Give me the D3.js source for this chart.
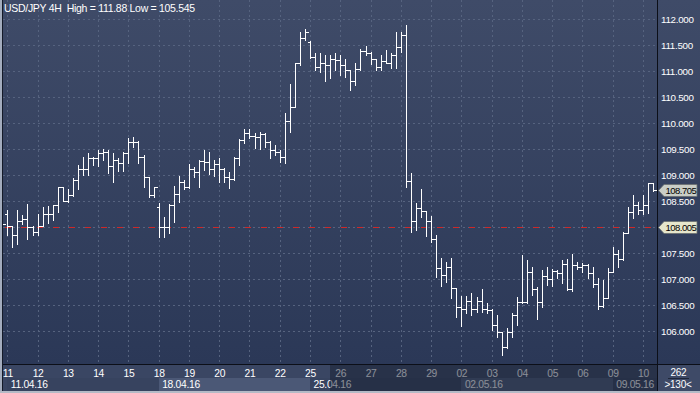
<!DOCTYPE html>
<html><head><meta charset="utf-8">
<script src="https://cdn.jsdelivr.net/npm/d3@7/dist/d3.min.js"></script>
<style>html,body{margin:0;padding:0;background:#2e3a57;overflow:hidden}svg{display:block}text{font-family:"Liberation Sans",Arial,sans-serif}</style>
</head><body><svg id="c" width="700" height="393"></svg>
<script>
// ---------------- data ----------------
const titleText = "USD/JPY 4H  High = 111.88 Low = 105.545";
const dayLabels = ["11","12","13","14","15","18","19","20","21","22","25","26","27","28","29","02","03","04","05","06","09","10"];
const weekLabels = ["11.04.16","18.04.16","25.04.16","02.05.16","09.05.16"];
const weekStartDay = [0,5,10,15,20];
const barsPerDay = 6;
const firstBar = -1;
const opens = [108.135,108.244,108.019,107.846,108.121,108.154,107.994,107.910,108.019,108.250,108.250,108.417,108.763,108.506,108.615,108.904,109.110,109.110,109.321,109.321,109.429,109.448,109.173,109.288,109.237,109.429,109.640,109.640,109.352,108.956,108.615,108.379,108.000,107.994,108.423,108.635,108.860,108.763,109.110,109.063,109.269,109.256,109.115,109.206,109.115,108.967,108.917,109.321,109.673,109.813,109.750,109.725,109.788,109.640,109.481,109.448,109.352,110.044,110.313,111.154,111.629,111.563,111.263,111.083,111.148,111.115,111.225,111.212,111.115,111.019,110.813,111.033,111.390,111.340,111.225,111.071,111.198,111.160,111.317,111.462,111.692,108.890,108.115,108.360,108.313,108.115,107.763,107.206,107.077,107.225,106.821,106.467,106.417,106.583,106.417,106.583,106.417,106.404,106.115,105.987,105.698,105.987,106.308,106.563,106.563,107.140,106.802,106.558,107.067,106.994,107.160,107.110,107.288,106.802,107.269,107.237,107.269,107.121,106.904,106.481,106.635,107.135,107.481,107.385,107.885,108.288,108.423,108.327,108.423,108.846];
const highs = [108.231,108.327,108.019,108.327,108.231,108.442,108.019,108.250,108.390,108.404,108.417,108.775,108.775,108.725,108.937,109.192,109.352,109.417,109.340,109.481,109.494,109.481,109.417,109.321,109.448,109.706,109.725,109.660,109.385,108.960,108.775,108.456,108.198,108.442,108.788,108.981,108.904,109.212,109.160,109.280,109.481,109.448,109.288,109.321,109.129,109.063,109.352,109.687,109.879,109.879,109.802,109.833,109.802,109.660,109.577,109.481,110.187,110.750,111.160,111.756,111.802,111.583,111.340,111.340,111.308,111.308,111.340,111.308,111.225,111.019,111.148,111.417,111.481,111.371,111.225,111.308,111.404,111.340,111.756,111.756,111.880,109.044,108.456,108.725,108.313,108.212,107.846,107.398,107.333,107.398,106.821,106.673,106.673,106.725,106.660,106.802,106.533,106.417,106.308,105.990,106.052,106.340,106.660,107.462,107.365,107.225,106.852,107.173,107.237,107.187,107.173,107.365,107.379,107.481,107.333,107.302,107.290,107.237,107.013,106.981,107.212,107.615,107.558,107.904,108.385,108.615,108.481,108.615,108.852,108.852];
const lows = [107.942,107.846,107.621,107.673,108.058,107.763,107.846,107.846,108.010,108.071,108.135,108.294,108.506,108.490,108.600,108.725,109.000,109.000,109.192,109.173,109.288,109.044,108.871,109.083,109.083,109.225,109.544,109.225,108.775,108.583,108.583,107.813,107.813,107.879,108.102,108.487,108.725,108.744,108.967,108.775,109.096,109.019,108.981,108.871,108.871,108.744,108.904,109.192,109.610,109.706,109.513,109.494,109.544,109.321,109.385,109.256,109.237,109.833,110.308,111.115,111.596,111.244,111.019,110.987,110.813,110.860,111.019,110.923,110.890,110.635,110.731,111.019,111.308,111.135,111.019,111.019,111.148,111.052,111.052,111.371,108.763,107.910,107.942,108.198,107.827,107.712,107.044,106.865,106.948,106.629,106.275,106.102,106.340,106.308,106.371,106.371,106.340,106.019,105.890,105.545,105.667,105.890,106.115,106.533,106.533,106.692,106.225,106.467,106.885,106.865,107.013,106.917,106.788,106.775,107.187,107.140,107.013,106.840,106.417,106.462,106.635,107.130,107.231,107.365,107.885,108.173,108.250,108.250,108.269,108.700];
const closes = [108.058,108.019,107.846,108.121,108.154,107.994,107.910,108.019,108.250,108.250,108.417,108.763,108.506,108.615,108.904,109.110,109.110,109.321,109.321,109.429,109.448,109.173,109.288,109.237,109.429,109.640,109.640,109.352,108.956,108.615,108.763,108.000,107.994,108.423,108.635,108.860,108.763,109.110,109.063,109.269,109.256,109.115,109.206,109.115,108.967,108.917,109.321,109.673,109.813,109.750,109.725,109.788,109.640,109.481,109.448,109.352,110.044,110.313,111.154,111.629,111.756,111.263,111.083,111.148,111.115,111.225,111.212,111.115,111.019,110.813,111.033,111.390,111.340,111.225,111.071,111.198,111.160,111.317,111.462,111.692,108.890,108.115,108.360,108.313,108.115,107.763,107.206,107.077,107.225,106.821,106.467,106.417,106.583,106.417,106.583,106.417,106.404,106.115,105.987,105.698,105.987,106.308,106.563,106.563,107.140,106.802,106.558,107.067,106.994,107.160,107.110,107.288,106.802,107.269,107.237,107.269,107.121,106.904,106.481,106.635,107.135,107.481,107.385,107.885,108.288,108.423,108.327,108.423,108.846,108.705];
const priceTicks = [106,106.5,107,107.5,108,108.5,109,109.5,110,110.5,111,111.5,112];
const lastPrice = 108.705;
const refPrice = 108.005;
const totalBarsText = "262";
const visibleBarsText = ">130<";

// ---------------- layout ----------------
const W = 700, H = 393;
const plotL = 3, plotR = 657, plotT = 0, plotB = 364;
const svg = d3.select("#c");
const defs = svg.append("defs");
const grad = defs.append("linearGradient").attr("id","bg").attr("x1",0).attr("y1",0).attr("x2",0).attr("y2",1);
grad.append("stop").attr("offset","0%").attr("stop-color","#3f4b68");
grad.append("stop").attr("offset","100%").attr("stop-color","#2b3857");
defs.append("clipPath").attr("id","clip").append("rect").attr("x",plotL).attr("y",plotT).attr("width",plotR-plotL).attr("height",plotB-plotT);

const x = d3.scaleLinear().domain([0,128]).range([7.3,653.1]);
const y = d3.scaleLinear().domain([105.5,112]).range([357,19]);
const px = v => Math.round(x(v)) + 0.5;
const py = v => Math.round(y(v)) + 0.5;
const fmt = d3.format(".3f");

// backgrounds
svg.append("rect").attr("width",W).attr("height",H).attr("fill","#36425f");
svg.append("rect").attr("x",0).attr("y",0).attr("width",W).attr("height",plotB).attr("fill","url(#bg)");

// grid
const grid = svg.append("g").attr("clip-path","url(#clip)").attr("stroke","#56637f").attr("stroke-dasharray","2,3").attr("stroke-width",1);
grid.selectAll("line.h").data(priceTicks).join("line").attr("class","h")
  .attr("x1",plotL).attr("x2",plotR).attr("y1",d=>py(d)).attr("y2",d=>py(d));
grid.selectAll("line.v").data(dayLabels).join("line").attr("class","v")
  .attr("x1",(d,i)=>px(i*barsPerDay)).attr("x2",(d,i)=>px(i*barsPerDay)).attr("y1",plotT).attr("y2",plotB);

// reference line
svg.append("line").attr("clip-path","url(#clip)")
  .attr("x1",plotL).attr("x2",plotR).attr("y1",py(refPrice)).attr("y2",py(refPrice))
  .attr("stroke","#d02828").attr("stroke-width",1).attr("stroke-dasharray","6,10").attr("stroke-dashoffset",-2);

// OHLC bars
const bars = opens.map((o,k)=>({i:k+firstBar,o,h:highs[k],l:lows[k],c:closes[k]}));
svg.append("g").attr("clip-path","url(#clip)")
  .selectAll("path").data(bars).join("path")
  .attr("fill","none").attr("stroke","#ffffff").attr("stroke-width",1).attr("shape-rendering","crispEdges")
  .attr("d",d=>{
    const xc = px(d.i);
    const yh = Math.round(y(d.h)), yl = Math.round(y(d.l))+1;
    return `M${xc},${yh}V${yl}M${xc-2.5},${py(d.o)}H${xc}M${xc},${py(d.c)}H${xc+3}`;
  });

// title
svg.append("text").attr("x",4).attr("y",12).attr("fill","#ffffff").attr("font-size",10.5).attr("letter-spacing",-0.3)
  .attr("xml:space","preserve").text(titleText);

// right axis panel
svg.append("rect").attr("x",plotR).attr("y",0).attr("width",W-plotR).attr("height",plotB).attr("fill","url(#bg)");
const tags = [lastPrice, refPrice];
svg.append("g").selectAll("text")
  .data(priceTicks.filter(t => tags.every(p => Math.abs(y(t)-y(p)) > 9)))
  .join("text")
  .attr("x",661).attr("y",d=>y(d)+3.7).attr("fill","#ffffff").attr("font-size",9.8).attr("letter-spacing",-0.3)
  .text(d=>fmt(d));

// price tags
function tag(val, fill){
  const cy = Math.round(y(val)) + 0.5;
  const g = svg.append("g");
  g.append("path").attr("d",`M658.5,${cy}L664,${cy-6}H697V${cy+6}H664Z`)
    .attr("fill",fill).attr("stroke","#6a6e70").attr("stroke-width",0.8);
  g.append("text").attr("x",665.5).attr("y",cy+3.5).attr("fill","#000000").attr("font-size",9.5).attr("letter-spacing",-0.5)
    .text(fmt(val));
}
tag(lastPrice,"#c9cdc6");
tag(refPrice,"#e6e6cc");

// bottom axis
svg.append("rect").attr("x",0).attr("y",plotB).attr("width",plotR).attr("height",H-plotB).attr("fill","#3a4663");
const weekEnds = weekStartDay.slice(1).concat([dayLabels.length]);
svg.append("g").selectAll("rect").data(weekLabels).join("rect")
  .attr("x",(d,i)=>px(weekStartDay[i]*barsPerDay)-0.5)
  .attr("y",378).attr("height",13)
  .attr("width",(d,i)=> i===weekLabels.length-1 ? plotR-(px(weekStartDay[i]*barsPerDay)-0.5) : px(weekEnds[i]*barsPerDay)-px(weekStartDay[i]*barsPerDay))
  .attr("fill",(d,i)=> i%2===1 ? "#4b5876" : "#37435f");
svg.append("g").selectAll("text").data(dayLabels).join("text")
  .attr("x",(d,i)=>x(i*barsPerDay)+0.5).attr("y",376.5).attr("text-anchor","middle")
  .attr("fill","#ffffff").attr("font-size",10.3).attr("letter-spacing",-0.3).text(d=>d);
svg.append("g").selectAll("text").data(weekLabels).join("text")
  .attr("x",(d,i)=>x(weekStartDay[i]*barsPerDay)+3.5).attr("y",387.5)
  .attr("fill","#ffffff").attr("font-size",10.3).attr("letter-spacing",-0.3).text(d=>d);
svg.append("rect").attr("x",330).attr("y",plotB+1).attr("width",plotR-330).attr("height",H-plotB-3).attr("fill","rgba(22,30,48,0.5)");

// bottom-right box
svg.append("rect").attr("x",plotR).attr("y",plotB).attr("width",W-plotR).attr("height",H-plotB).attr("fill","#3e4a67");
svg.append("text").attr("x",678.5).attr("y",376).attr("text-anchor","middle").attr("fill","#ffffff").attr("font-size",10).attr("letter-spacing",-0.3).text(totalBarsText);
svg.append("line").attr("x1",668).attr("x2",689).attr("y1",378.5).attr("y2",378.5).attr("stroke","#1e2638");
svg.append("text").attr("x",678).attr("y",387.5).attr("text-anchor","middle").attr("fill","#ffffff").attr("font-size",10).attr("letter-spacing",-0.3).text(visibleBarsText);

// frame lines
svg.append("line").attr("x1",0).attr("x2",W).attr("y1",plotB+0.5).attr("y2",plotB+0.5).attr("stroke","#0c0f18");
svg.append("line").attr("x1",plotR+0.5).attr("x2",plotR+0.5).attr("y1",0).attr("y2",H-2).attr("stroke","#0c0f18");
svg.append("rect").attr("x",0).attr("y",0).attr("width",2).attr("height",H).attr("fill","#a3acbd");
svg.append("line").attr("x1",2.5).attr("x2",2.5).attr("y1",0).attr("y2",H-2).attr("stroke","#141a28");
svg.append("rect").attr("x",0).attr("y",H-2).attr("width",W).attr("height",2).attr("fill","#b4bac6");
</script></body></html>
